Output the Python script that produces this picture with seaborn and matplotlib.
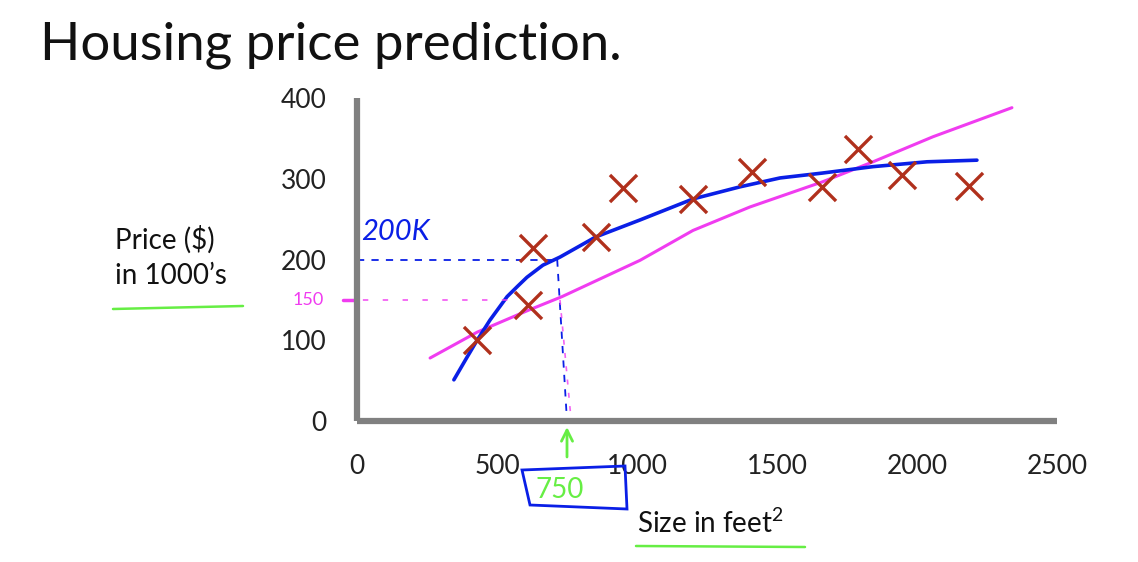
import numpy as np
import pandas as pd
import matplotlib
matplotlib.use("Agg")
import matplotlib.pyplot as plt
import seaborn as sns
from matplotlib.lines import Line2D
from matplotlib.patches import Polygon

# ---------------- data ----------------
size_sqft = [429, 611, 628, 853, 950, 1200, 1410, 1661, 1789, 1946, 2186]
price_k = [100, 144, 214, 228, 288, 275, 308, 290, 337, 305, 291]

quad_x = [346, 393, 429, 475, 536, 574, 607, 664, 725, 853, 1011, 1200, 1368, 1511, 1661, 1843, 2036, 2214]
quad_y = [51, 79, 100, 125, 154, 167, 178, 193, 203, 228, 249, 275, 290, 301, 307, 315, 321, 323]

lin_x = [261, 429, 611, 732, 1011, 1200, 1403, 1661, 1843, 2057, 2339]
lin_y = [78, 110, 137, 154, 199, 236, 265, 296, 321, 352, 388]

x_ticks = [0, 500, 1000, 1500, 2000, 2500]
y_ticks = [0, 100, 200, 300, 400]

query_size = 750
pred_quad = 200
pred_lin = 150

title = "Housing price prediction."
ylabel = "Price ($)\nin 1000\u2019s"
xlabel = "Size in feet$^{\\mathrm{2}}$"

# ---------------- style ----------------
sns.set_theme(style="white")
plt.rcParams['font.family'] = ['Lato', 'DejaVu Sans']
plt.rcParams['mathtext.fontset'] = 'custom'
plt.rcParams['mathtext.rm'] = 'Lato'

W, H = 1138, 562
fig = plt.figure(figsize=(W / 100, H / 100), dpi=100)
ax = fig.add_axes([357 / W, (H - 421) / H, 700 / W, 323 / H])

pts = pd.DataFrame({"size": size_sqft, "price": price_k})
quad = pd.DataFrame({"size": quad_x, "price": quad_y})
lin = pd.DataFrame({"size": lin_x, "price": lin_y})

blue = "#0a1fe6"
magenta = "#f03cf0"
red = "#b0301c"
green = "#66ee44"
gray = "#808080"

sns.lineplot(data=lin, x="size", y="price", sort=False, color=magenta, lw=2.2, ax=ax)
sns.lineplot(data=quad, x="size", y="price", sort=False, color=blue, lw=2.6, ax=ax)
sns.scatterplot(data=pts, x="size", y="price", marker="x", s=380, color=red,
                linewidth=2.4, ax=ax, zorder=5)

# dashed reading lines
ax.plot([0, 715], [pred_quad, pred_quad], ls=(0, (4, 4)), color=blue, lw=1.3)
ax.plot([715, query_size], [pred_quad, 0], ls=(0, (4, 4)), color=blue, lw=1.3)
ax.plot([-50, 580], [pred_lin, pred_lin], ls=(0, (3, 8)), color=magenta, lw=1.3,
        clip_on=False, alpha=0.8)
ax.plot([-50, 0], [pred_lin, pred_lin], color=magenta, lw=2.5, clip_on=False)
ax.plot([725, 765], [pred_lin, 0], ls=(0, (3, 5)), color=magenta, lw=1.2, alpha=0.8)

ax.set_xlim(0, 2500)
ax.set_ylim(0, 400)
ax.set_xticks(x_ticks)
ax.set_yticks(y_ticks)
ax.set_xlabel("")
ax.set_ylabel("")
for s in ["top", "right"]:
    ax.spines[s].set_visible(False)
for s in ["left", "bottom"]:
    ax.spines[s].set_color(gray)
    ax.spines[s].set_linewidth(4.5)
    ax.spines[s].set_capstyle("butt")
ax.tick_params(axis="both", direction="inout", length=16, width=4.5, color=gray,
               labelsize=19, labelcolor="#222222")
ax.tick_params(axis="x", pad=16)
ax.tick_params(axis="y", pad=14)

# texts
fig.text(40 / W, 1 - 45 / H, title, fontsize=38, va="center", ha="left", color="#111111")
fig.text(115 / W, 1 - 257 / H, ylabel, fontsize=20, va="center", ha="left",
         color="#111111", linespacing=1.45)
fig.text(637 / W, 1 - 523 / H, xlabel, fontsize=20, va="center", ha="left", color="#111111")

# handwritten annotations
ax.text(15, 234, "200K", color=blue, fontsize=21, style="italic", ha="left", va="center")
ax.text(-175, pred_lin, "150", color=magenta, fontsize=13, ha="center", va="center")
ax.annotate("", xy=(query_size, -4), xytext=(query_size, -48),
            arrowprops=dict(arrowstyle="->", color=green, lw=2, mutation_scale=20),
            annotation_clip=False)
ax.text(query_size - 25, -86, "750", color=green, fontsize=20, ha="center", va="center",
        clip_on=False, zorder=6)
box = Polygon([[(522 - 357) * 500 / 140, (421 - 470) / 0.8075],
               [(625 - 357) * 500 / 140, (421 - 466) / 0.8075],
               [(627 - 357) * 500 / 140, (421 - 509) / 0.8075],
               [(530 - 357) * 500 / 140, (421 - 505) / 0.8075]],
              closed=True, fill=False, edgecolor=blue, lw=2, clip_on=False)
ax.add_patch(box)

# green underlines
fig.add_artist(Line2D([113 / W, 243 / W], [1 - 309 / H, 1 - 306 / H], color=green, lw=1.8))
fig.add_artist(Line2D([636 / W, 805 / W], [1 - 546 / H, 1 - 547 / H], color=green, lw=1.8))

fig.savefig("out.png", dpi=100)
